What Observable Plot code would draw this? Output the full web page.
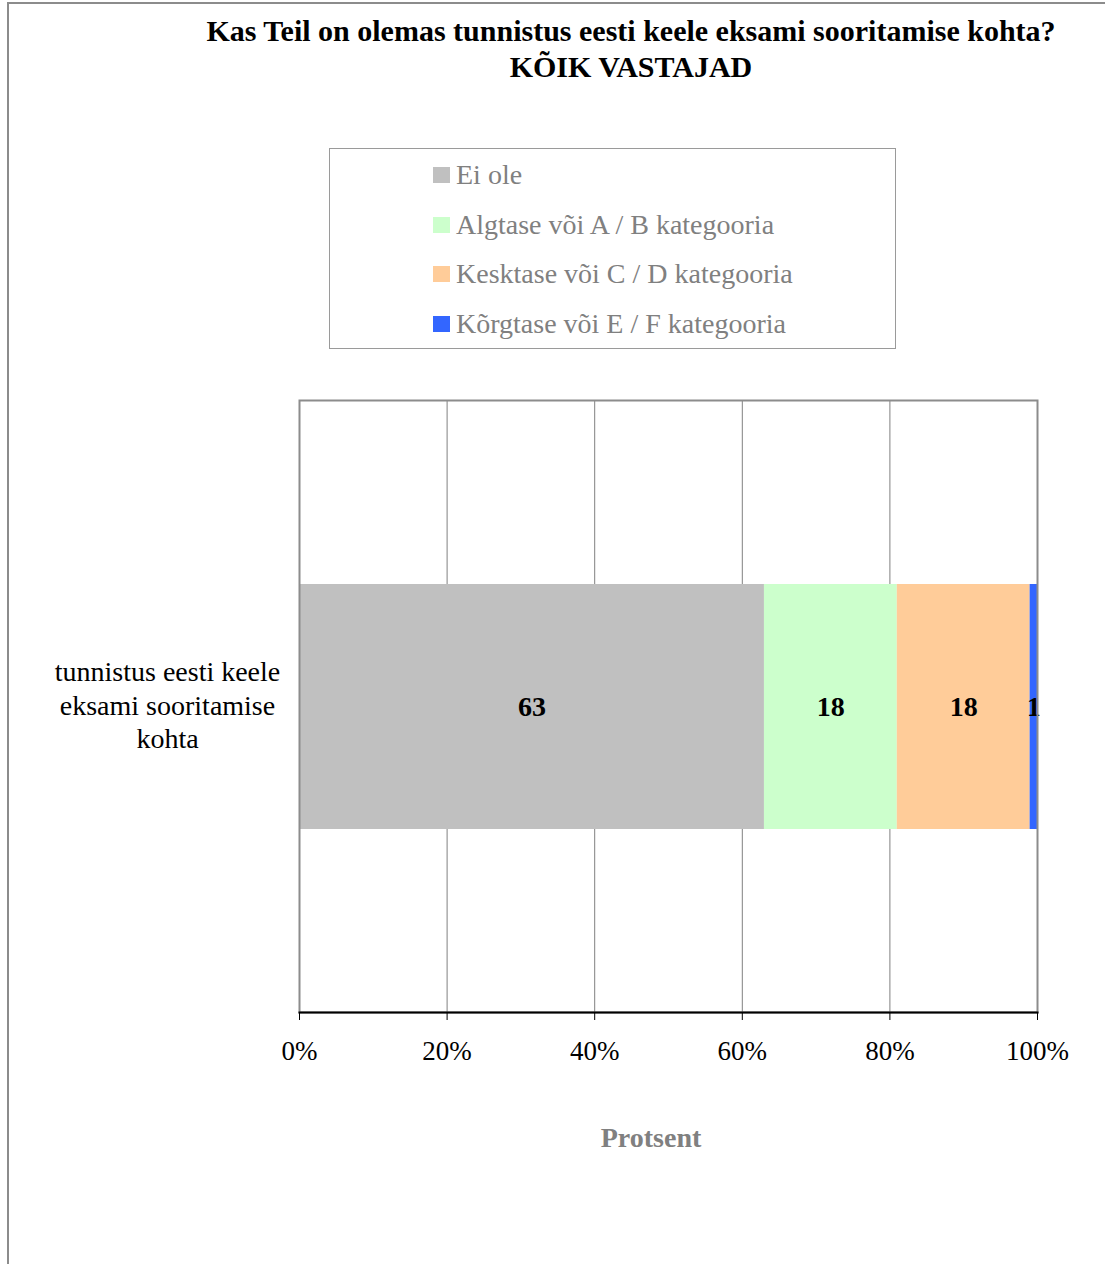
<!DOCTYPE html>
<html>
<head>
<meta charset="utf-8">
<script src="https://cdn.jsdelivr.net/npm/d3@7"></script>
<script src="https://cdn.jsdelivr.net/npm/@observablehq/plot@0.6"></script>
<style>
  html, body { margin: 0; padding: 0; background: #fff; }
  #page { position: relative; width: 1105px; height: 1264px; overflow: hidden; font-family: "Liberation Serif", "Times New Roman", serif; }
  #chart svg, #chart svg text, #chart svg g { font-family: "Liberation Serif", "Times New Roman", serif !important; }
  #outer { position: absolute; left: 7px; top: 2px; width: 1200px; height: 1400px; border-left: 2px solid #8c8c8c; border-top: 2px solid #8c8c8c; }
  #title { position: absolute; left: 131px; top: 13px; width: 1000px; text-align: center; font-weight: bold; font-size: 30px; line-height: 36px; color: #000; }
  #legend { position: absolute; left: 329px; top: 148px; width: 565px; height: 199px; border: 1px solid #9a9a9a; }
  .item { position: absolute; left: 103px; height: 30px; display: flex; align-items: center; color: #808080; font-size: 28px; }
  .sw { width: 17px; height: 16px; margin-right: 6px; }
  #chart { position: absolute; left: 0; top: 380px; }
  #xlabel { position: absolute; left: 451px; width: 400px; top: 1122px; text-align: center; font-weight: bold; font-size: 28px; color: #808080; }
</style>
</head>
<body>
<div id="page">
  <div id="outer"></div>
  <div id="title"></div>
  <div id="legend"></div>
  <div id="chart"></div>
  <div id="xlabel"></div>
</div>
<script>
const titleLines = ["Kas Teil on olemas tunnistus eesti keele eksami sooritamise kohta?", "KÕIK VASTAJAD"];
const category = "tunnistus eesti keele\neksami sooritamise\nkohta";
const series = ["Ei ole", "Algtase või A / B kategooria", "Kesktase või C / D kategooria", "Kõrgtase või E / F kategooria"];
const values = [63, 18, 18, 1];
const colors = ["#c0c0c0", "#ccffcc", "#ffcc99", "#3366ff"];
const xTicks = [0, 20, 40, 60, 80, 100];
const xTitle = "Protsent";

const serifFont = '"Liberation Serif", "Times New Roman", serif';
const data = series.map((s, i) => ({cat: category, series: s, value: values[i]}));

document.getElementById("title").innerHTML = titleLines.join("<br>");
document.getElementById("xlabel").textContent = xTitle;

const legend = document.getElementById("legend");
series.forEach((s, i) => {
  const it = document.createElement("div");
  it.className = "item";
  it.style.top = (11 + i * 49.7) + "px";
  const sw = document.createElement("span");
  sw.className = "sw";
  sw.style.background = colors[i];
  const t = document.createElement("span");
  t.textContent = s;
  it.appendChild(sw); it.appendChild(t);
  legend.appendChild(it);
});

const chart = Plot.plot({
  width: 1105,
  height: 884,
  marginLeft: 299,
  marginRight: 68,
  marginTop: 20,
  marginBottom: 252,
  style: {fontSize: "27px", color: "#000", background: "transparent"},
  x: {domain: [0, 100]},
  y: {domain: [category], padding: 0.4286},
  color: {domain: series, range: colors},
  marks: [
    Plot.gridX(xTicks, {stroke: "#808080", strokeOpacity: 1, strokeWidth: 1}),
    Plot.barX(data, Plot.stackX({x: "value", y: "cat", fill: "series", order: series})),
    Plot.text(data, Plot.stackX({x: "value", y: "cat", z: "series", text: d => String(d.value), order: series, fontWeight: "bold", fontSize: 28, fontFamily: serifFont, fill: "#000"})),
    Plot.frame({stroke: "#8c8c8c", strokeWidth: 2}),
    Plot.frame({anchor: "bottom", stroke: "#000", strokeWidth: 2}),
    Plot.axisX(xTicks, {tickSize: 8, tickPadding: 20, tickFormat: d => d + "%", fontSize: 27, fontFamily: serifFont, label: null, stroke: "#000", fill: "#000"}),
    Plot.axisY({tickSize: 0, tickPadding: 132, textAnchor: "middle", lineHeight: 1.2, fontSize: 28, fontFamily: serifFont, dy: -3, label: null, fill: "#000"})
  ]
});
document.getElementById("chart").appendChild(chart);
</script>
</body>
</html>
